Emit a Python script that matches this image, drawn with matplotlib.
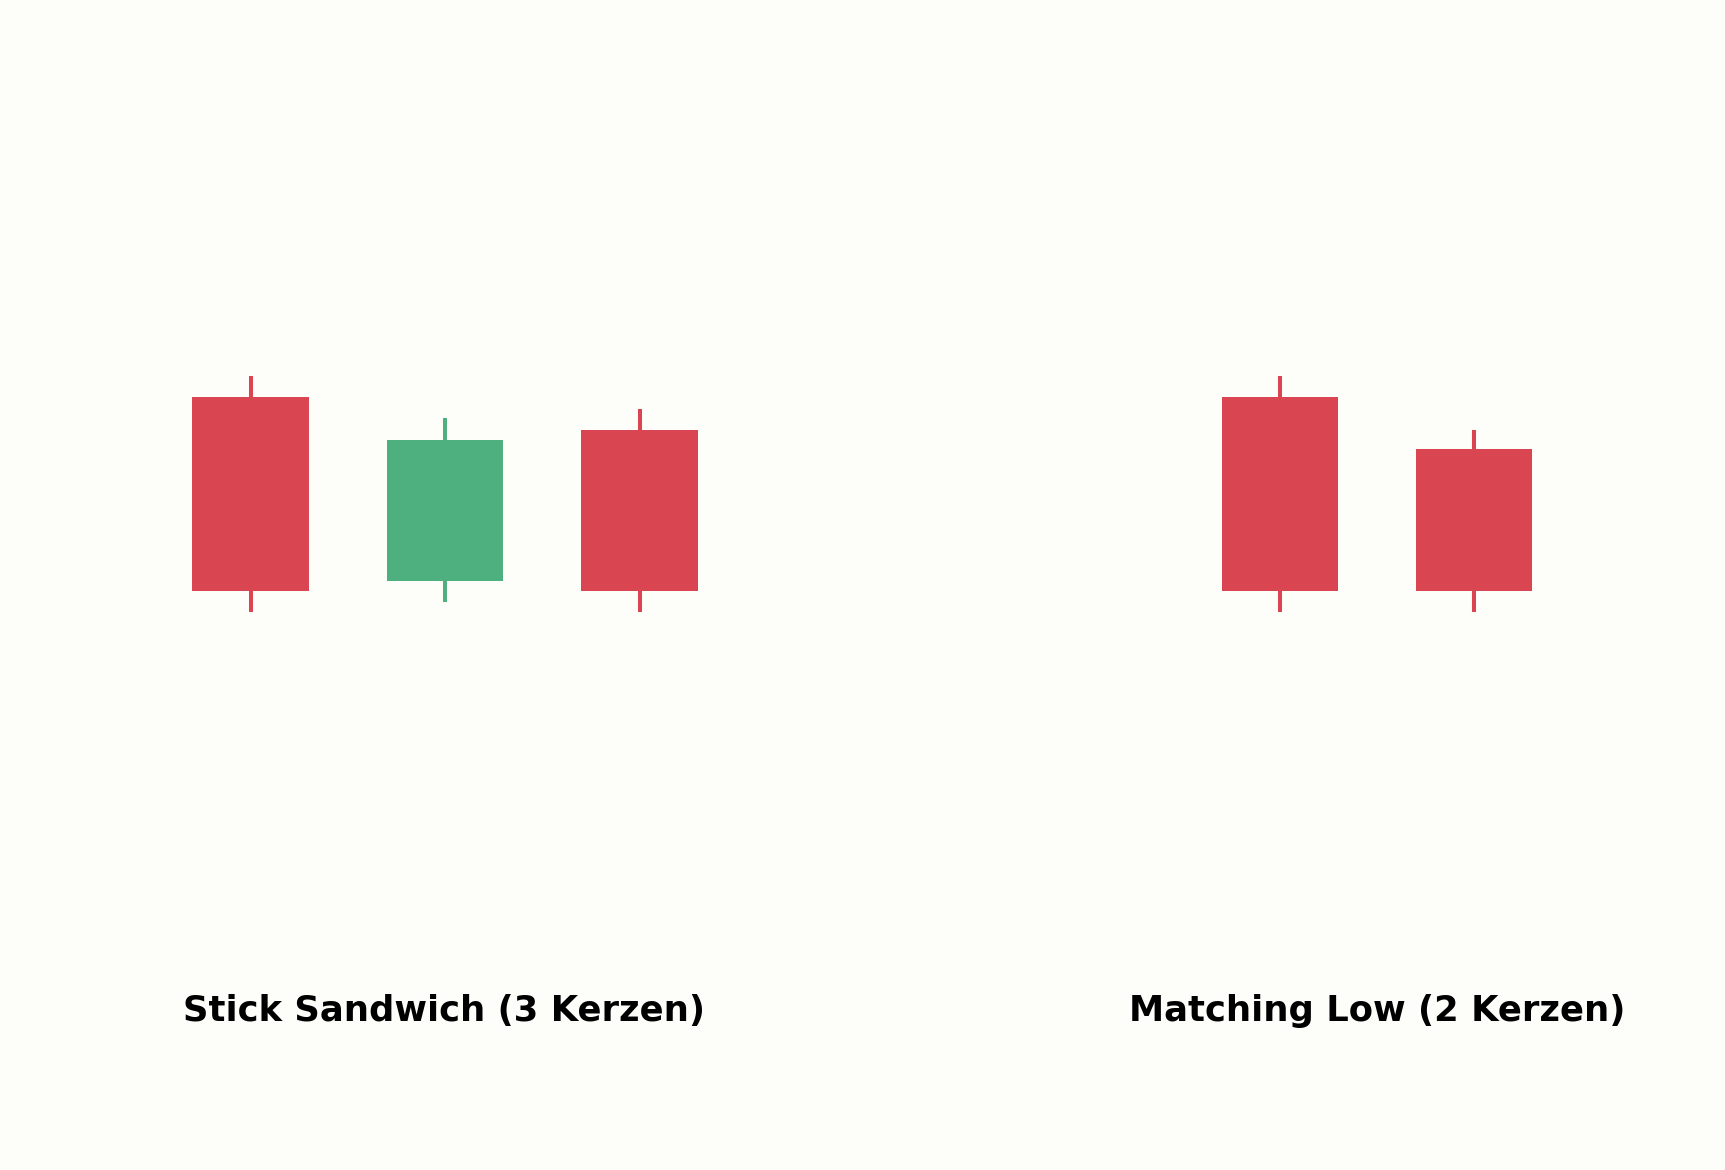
import numpy as np
import matplotlib.pyplot as plt

# Stick Sandwich (3 Kerzen)
ss_open = [105, 95.5, 103.3]
ss_high = [106, 103.8, 104.3]
ss_low = [94, 94.5, 94]
ss_close = [95, 102.8, 95]

# Matching Low (2 Kerzen)
ml_open = [105, 102.3]
ml_high = [106, 103.2]
ml_low = [94, 94]
ml_close = [95, 95]

titles = ['Stick Sandwich (3 Kerzen)', 'Matching Low (2 Kerzen)']

up_col = '#4eaf7f'
down_col = '#d94652'
bg = '#fdfdf9'


def candles(ax, o, h, l, c):
    for i in range(len(o)):
        col = up_col if c[i] >= o[i] else down_col
        ax.plot([i, i], [l[i], h[i]], color=col, lw=2.9, zorder=1)
        ax.bar(i, abs(c[i] - o[i]), bottom=min(o[i], c[i]), width=0.6,
               color=col, zorder=2)


fig = plt.figure(figsize=(17.25, 11.7), dpi=100, facecolor=bg)

ax1 = fig.add_axes([56 / 1725, 0.164, 778 / 1725, 0.8278])
ax2 = fig.add_axes([1086 / 1725, 0.164, 582 / 1725, 0.8278])

candles(ax1, ss_open, ss_high, ss_low, ss_close)
candles(ax2, ml_open, ml_high, ml_low, ml_close)

ax1.set_xlim(-1, 3)
ax2.set_xlim(-1, 2)
for ax in (ax1, ax2):
    ax.set_ylim(75, 125)
    ax.set_facecolor(bg)
    ax.axis('off')

fig.text(444 / 1725, 1 - 1021.5 / 1170, titles[0], ha='center', va='baseline',
         fontsize=25.5, fontweight='bold')
fig.text(1377 / 1725, 1 - 1021.5 / 1170, titles[1], ha='center', va='baseline',
         fontsize=25.5, fontweight='bold')

fig.savefig('out.png', dpi=100, facecolor=bg)
